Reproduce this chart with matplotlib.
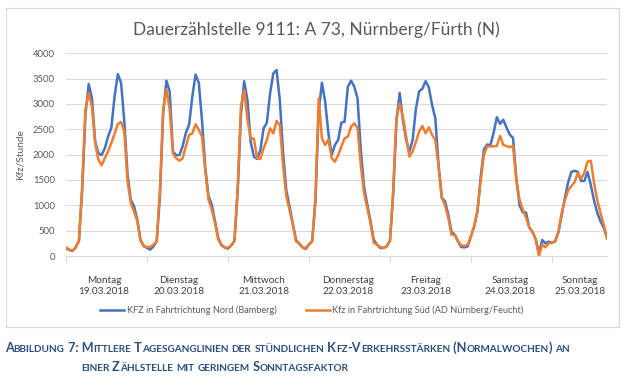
import matplotlib
matplotlib.use("Agg")
import matplotlib.pyplot as plt
from matplotlib.patches import Rectangle
import numpy as np

plt.rcParams['font.family'] = ['Lato', 'DejaVu Sans']

# hourly values (0-23 h) per day, Monday to Sunday
nord = [
    150, 120, 100, 170, 300, 1300, 2790, 3395, 3120, 2260, 2030, 1990, 2130, 2360, 2530, 3150, 3590, 3415, 2660, 1605, 1110, 980, 720, 320,   # Mo
    200, 160, 125, 190, 290, 1200, 2820, 3460, 3250, 2065, 1990, 1990, 2165, 2430, 2590, 3150, 3580, 3415, 2660, 1740, 1180, 1015, 685, 355,  # Di
    210, 165, 145, 210, 300, 1280, 2790, 3450, 3080, 2255, 1960, 1915, 2090, 2520, 2630, 3210, 3605, 3670, 3080, 2050, 1300, 980, 650, 320,   # Mi
    240, 170, 140, 225, 290, 1080, 2855, 3420, 3046, 2420, 1990, 2190, 2290, 2630, 2650, 3340, 3460, 3340, 3110, 2090, 1370, 1015, 685, 320,  # Do
    225, 158, 158, 190, 300, 1210, 2660, 3218, 2680, 2290, 2060, 2290, 2900, 3250, 3300, 3450, 3330, 2980, 2720, 1800, 1150, 1080, 820, 480,  # Fr
    420, 290, 178, 170, 190, 390, 585, 880, 1550, 2100, 2200, 2185, 2430, 2740, 2605, 2690, 2530, 2395, 2330, 1540, 1000, 860, 860, 560,      # Sa
    480, 330, 60, 316, 250, 283, 260, 290, 470, 800, 1150, 1450, 1660, 1680, 1660, 1480, 1480, 1660, 1400, 1100, 850, 685, 560, 350,          # So
]
sued = [
    170, 125, 105, 170, 300, 1400, 2890, 3218, 2950, 2230, 1900, 1790, 1935, 2065, 2230, 2410, 2605, 2645, 2460, 1475, 1045, 880, 685, 300,  # Mo
    190, 178, 178, 225, 290, 1300, 2900, 3290, 2900, 2025, 1930, 1880, 1930, 2160, 2390, 2420, 2600, 2490, 2355, 1670, 1110, 915, 650, 320,  # Di
    225, 170, 160, 210, 300, 1350, 2955, 3276, 2700, 2320, 2315, 1930, 1915, 2125, 2290, 2520, 2420, 2665, 2585, 1800, 1180, 915, 620, 290,  # Mi
    255, 170, 160, 225, 290, 1150, 3110, 2320, 2190, 2300, 1930, 1860, 1990, 2160, 2320, 2355, 2550, 2620, 2520, 1800, 1245, 950, 650, 255,  # Do
    225, 178, 158, 190, 300, 1300, 2725, 3010, 2750, 2355, 1960, 2060, 2255, 2450, 2565, 2420, 2540, 2390, 2290, 1770, 1150, 1000, 750, 420,  # Fr
    420, 290, 210, 200, 225, 390, 585, 880, 1475, 2000, 2165, 2160, 2165, 2170, 2370, 2190, 2170, 2145, 2170, 1500, 1110, 915, 760, 560,      # Sa
    480, 330, 0, 225, 170, 250, 260, 290, 470, 850, 1100, 1290, 1380, 1460, 1640, 1525, 1640, 1860, 1880, 1450, 1100, 850, 620, 350,          # So
]

tage = ['Montag', 'Dienstag', 'Mittwoch', 'Donnerstag', 'Freitag', 'Samstag', 'Sonntag']
daten = ['19.03.2018', '20.03.2018', '21.03.2018', '22.03.2018', '23.03.2018', '24.03.2018', '25.03.2018']
label_pos = [11.7, 34.9, 61.1, 87.0, 111.1, 137.0, 158.6]   # where the day labels sit (hour index)

titel = 'Dauerzählstelle 9111: A 73, Nürnberg/Fürth (N)'
leg_nord = 'KFZ in Fahrtrichtung Nord (Bamberg)'
leg_sued = 'Kfz in Fahrtrichtung Süd (AD Nürnberg/Feucht)'
caption1 = 'Abbildung 7: Mittlere Tagesganglinien der stündlichen Kfz-Verkehrsstärken (Normalwochen) an'
caption2 = 'einer Zählstelle mit geringem Sonntagsfaktor'

BLUE = '#4472C4'
ORANGE = '#ED7D31'
GRID = '#D9D9D9'
TXT = '#595959'

W, H = 627, 386
fig = plt.figure(figsize=(W / 100, H / 100), dpi=100)

# chart frame
fig.patches.append(Rectangle((6 / W, 1 - 327 / H), 613 / W, 319 / H, transform=fig.transFigure,
                             fill=False, edgecolor=GRID, lw=0.8))

ax = fig.add_axes([66 / W, 1 - 256 / H, 541 / W, 202.7 / H])
x = np.arange(len(nord))
ax.plot(x, nord, color=BLUE, lw=1.8, label=leg_nord, solid_joinstyle='round')
ax.plot(x, sued, color=ORANGE, lw=1.8, label=leg_sued, solid_joinstyle='round')

ax.set_xlim(0, len(nord) - 1)
ax.set_ylim(0, 4000)
ax.set_yticks(np.arange(0, 4001, 500))
ax.grid(axis='y', color=GRID, lw=0.75)
ax.set_axisbelow(True)
for s in ['top', 'right', 'left']:
    ax.spines[s].set_visible(False)
ax.spines['bottom'].set_color(GRID)
ax.spines['bottom'].set_linewidth(0.75)
ax.tick_params(axis='y', length=0, labelsize=6.8, labelcolor=TXT, pad=8)
ax.set_xticks(np.arange(0, 151, 25))
ax.tick_params(axis='x', length=4, color=GRID, labelbottom=False)
ax.set_ylabel('Kfz/Stunde', fontsize=7.3, color=TXT, labelpad=6)

for t, d, p in zip(tage, daten, label_pos):
    ax.text(p, -0.1, t + '\n' + d, transform=ax.get_xaxis_transform(), ha='center', va='top',
            fontsize=7.2, color='#404040', linespacing=1.25)

fig.text(316 / W, 1 - 30 / H, titel, ha='center', va='center', fontsize=12.5,
         color=TXT)

fig.legend(loc='center', bbox_to_anchor=(312 / W, 1 - 310 / H), ncol=2, frameon=False,
           fontsize=6.6, labelcolor=TXT, handlelength=2.6, handletextpad=0.3, columnspacing=3.2)


def small_caps(txt, x0, y0, big=9.1, small=7.2, color='#2A4F7F'):
    # draw text in small caps piece by piece
    renderer = fig.canvas.get_renderer()
    segs = []
    for ch in txt:
        size = small if ch.islower() else big
        if segs and segs[-1][1] == size:
            segs[-1][0] += ch.upper()
        else:
            segs.append([ch.upper(), size])
    xp = x0
    for s, size in segs:
        t = fig.text(xp / W, 1 - y0 / H, s, fontsize=size, fontweight='bold', color=color,
                     ha='left', va='baseline')
        bb = t.get_window_extent(renderer=renderer)
        xp += bb.width


small_caps(caption1, 5, 352)
small_caps(caption2, 81, 371)

fig.savefig('out.png', dpi=100)
